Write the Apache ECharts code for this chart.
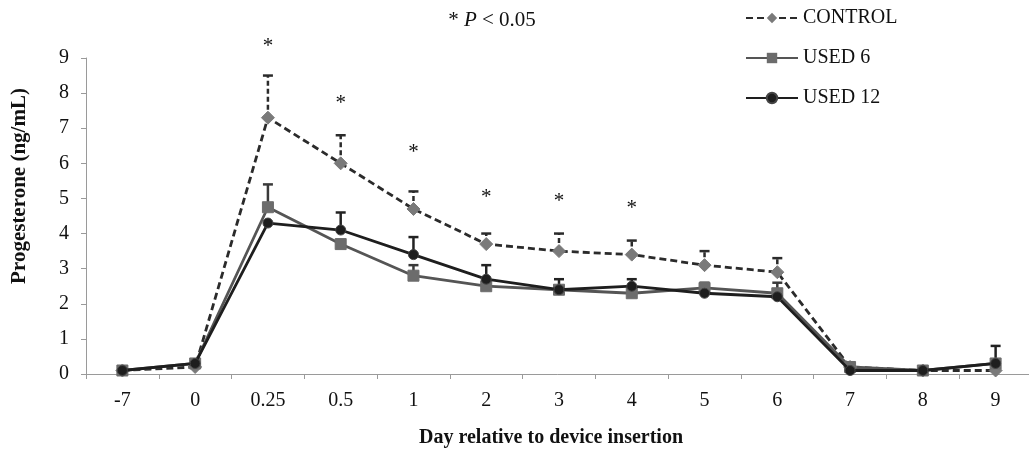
<!DOCTYPE html>
<html>
<head>
<meta charset="utf-8">
<script src="https://cdn.jsdelivr.net/npm/echarts@6/dist/echarts.min.js"></script>
<style>
  html, body { margin: 0; padding: 0; background: #fff; }
  #chart { width: 1029px; height: 452px; }
</style>
</head>
<body>
<div id="chart"></div>
<script>
const days = ['-7', '0', '0.25', '0.5', '1', '2', '3', '4', '5', '6', '7', '8', '9']

const control = [0.1, 0.2, 7.3, 6.0, 4.7, 3.7, 3.5, 3.4, 3.1, 2.9, 0.2, 0.1, 0.1]
const used6 = [0.1, 0.3, 4.75, 3.7, 2.8, 2.5, 2.4, 2.3, 2.45, 2.3, 0.2, 0.1, 0.3]
const used12 = [0.1, 0.3, 4.3, 4.1, 3.4, 2.7, 2.4, 2.5, 2.3, 2.2, 0.1, 0.1, 0.3]

// upper end of error bar (mean + SE), null = no visible bar
const controlTop = [null, null, 8.5, 6.8, 5.2, 4.0, 4.0, 3.8, 3.5, 3.3, null, null, null]
const used6Top = [null, null, 5.4, null, 3.1, null, null, null, 2.6, 2.6, null, null, null]
const used12Top = [null, null, null, 4.6, 3.9, 3.1, 2.7, 2.7, null, null, null, null, 0.8]

// significance marks (y position in ng/mL)
const starDays = ['0.25', '0.5', '1', '2', '3', '4']
const starY = [9.33, 7.7, 6.3, 5.03, 4.92, 4.72]

const FONT = '"Liberation Serif", "DejaVu Serif", serif'

function errData(mean, top) {
  let out = []
  top.forEach(function (t, i) {
    if (t !== null) out.push([i, mean[i], t])
  })
  return out
}

function errSeries(mean, top, color, dashed) {
  return {
    type: 'custom',
    data: errData(mean, top),
    encode: {x: 0, y: 2},
    z: 1,
    silent: true,
    renderItem: function (params, api) {
      let p0 = api.coord([api.value(0), api.value(1)])
      let p1 = api.coord([api.value(0), api.value(2)])
      let w = 5
      return {
        type: 'group',
        children: [
          {
            type: 'line',
            shape: {x1: p0[0], y1: p0[1], x2: p1[0], y2: p1[1]},
            style: {stroke: color, lineWidth: 2.5, lineDash: dashed ? [5, 3] : null}
          },
          {
            type: 'line',
            shape: {x1: p1[0] - w, y1: p1[1], x2: p1[0] + w, y2: p1[1]},
            style: {stroke: color, lineWidth: 2.5}
          }
        ]
      }
    }
  }
}

let chart = echarts.init(document.getElementById('chart'))

let option = {
  animation: false,
  textStyle: {fontFamily: FONT},
  title: {
    text: '{a|* }{p|P}{a| < 0.05}',
    left: 487,
    top: 5,
    textAlign: 'center',
    textStyle: {
      rich: {
        a: {fontFamily: FONT, fontSize: 21, color: '#111', fontWeight: 'normal'},
        p: {fontFamily: FONT, fontSize: 21, color: '#111', fontStyle: 'italic', fontWeight: 'normal'}
      }
    }
  },
  legend: {
    orient: 'vertical',
    left: 740,
    top: 3,
    itemGap: 20,
    itemWidth: 52,
    itemHeight: 13,
    textStyle: {fontFamily: FONT, fontSize: 20, color: '#111'},
    data: ['CONTROL', 'USED 6', 'USED 12']
  },
  grid: {
    left: 86,
    right: -3,
    top: 58,
    bottom: 78,
    outerBoundsMode: 'none'
  },
  xAxis: {
    type: 'category',
    data: days,
    name: 'Day relative to device insertion',
    nameLocation: 'middle',
    nameGap: 54,
    nameTextStyle: {fontFamily: FONT, fontSize: 20, fontWeight: 'bold', color: '#111', padding: [0, 16, 0, 0]},
    axisLine: {lineStyle: {color: '#9a9a9a', width: 1}},
    axisTick: {show: true, length: 5, lineStyle: {color: '#9a9a9a'}},
    axisLabel: {fontFamily: FONT, fontSize: 20, color: '#111', margin: 17},
    splitLine: {show: false}
  },
  yAxis: {
    type: 'value',
    min: 0,
    max: 9,
    interval: 1,
    name: 'Progesterone (ng/mL)',
    nameLocation: 'middle',
    nameGap: 56,
    nameTextStyle: {fontFamily: FONT, fontSize: 21, fontWeight: 'bold', color: '#111', padding: [0, 0, 0, 60]},
    axisLine: {show: true, lineStyle: {color: '#9a9a9a', width: 1}},
    axisTick: {show: true, length: 5, lineStyle: {color: '#9a9a9a'}},
    axisLabel: {fontFamily: FONT, fontSize: 20, color: '#111', margin: 17},
    splitLine: {show: false}
  },
  series: [
    errSeries(control, controlTop, '#2b2b2b', true),
    errSeries(used6, used6Top, '#3a3a3a', false),
    errSeries(used12, used12Top, '#222', false),
    {
      name: 'CONTROL',
      type: 'line',
      data: control,
      symbol: 'diamond',
      symbolSize: 13,
      z: 3,
      lineStyle: {color: '#2b2b2b', width: 2.8, type: [7, 4]},
      itemStyle: {color: '#7a7a7a', borderColor: '#7a7a7a'}
    },
    {
      name: 'USED 6',
      type: 'line',
      data: used6,
      symbol: 'rect',
      symbolSize: 11,
      z: 3,
      lineStyle: {color: '#555', width: 2.8},
      itemStyle: {color: '#6c6c6c', borderColor: '#6c6c6c'}
    },
    {
      name: 'USED 12',
      type: 'line',
      data: used12,
      symbol: 'circle',
      symbolSize: 10,
      z: 4,
      lineStyle: {color: '#1e1e1e', width: 2.8},
      itemStyle: {color: '#1e1e1e', borderColor: '#444', borderWidth: 1}
    },
    {
      type: 'custom',
      data: starDays.map(function (d, i) { return [d, starY[i]] }),
      silent: true,
      z: 5,
      renderItem: function (params, api) {
        let p = api.coord([api.value(0), api.value(1)])
        return {
          type: 'text',
          style: {
            text: '*',
            x: p[0],
            y: p[1],
            align: 'center',
            verticalAlign: 'middle',
            fontFamily: FONT,
            fontSize: 21,
            fill: '#111'
          }
        }
      }
    }
  ]
}

chart.setOption(option)
</script>
</body>
</html>
